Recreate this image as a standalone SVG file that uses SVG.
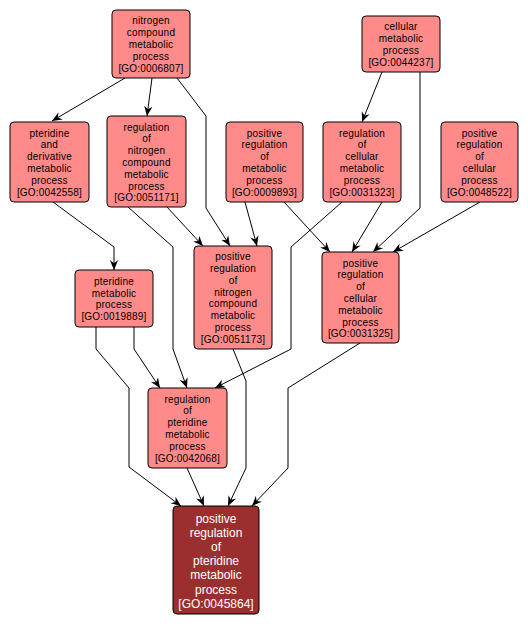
<svg xmlns="http://www.w3.org/2000/svg" width="528" height="627" viewBox="0 0 528 627">
<style>
.n rect{fill:#ff8a8a;stroke:#000;stroke-width:1}
.n text{font-family:"Liberation Sans",Arial,sans-serif;font-size:10px;letter-spacing:0.2px;fill:#000;text-anchor:middle}
.d rect{fill:#9b2f2f;stroke:#000;stroke-width:1}
.d text{font-family:"Liberation Sans",Arial,sans-serif;font-size:12px;fill:#fff;text-anchor:middle}
.e path{fill:none;stroke:#000;stroke-width:1;marker-end:url(#a)}
</style>
<defs>
<marker id="a" markerUnits="userSpaceOnUse" markerWidth="10" markerHeight="10" viewBox="0 0 10 10" refX="10" refY="5" orient="auto">
<path d="M0,0.8 L10,5 L0,9.2 L3.2,5 z" fill="#000"/>
</marker>
</defs>
<rect width="528" height="627" fill="#fff"/>
<g id="edges" class="e">
<path d="M125,78 L52,121"/>
<path d="M152,78 L147,116"/>
<path d="M177,78 L206,116 L206,208 L230,246"/>
<path d="M382,72 L362,122"/>
<path d="M420,72 L420,208 L373,252"/>
<path d="M53,202 L114,247 L114,270"/>
<path d="M167,207 L203,246"/>
<path d="M128,207 L173,247 L173,349 L187,388"/>
<path d="M245,202 L257,246"/>
<path d="M284,202 L330,252"/>
<path d="M382,202 L352,252"/>
<path d="M342,202 L291,247 L291,349 L215,388"/>
<path d="M480,202 L393,252"/>
<path d="M134,327 L134,349 L160,388"/>
<path d="M96,327 L96,349 L129,388 L129,467 L181,506"/>
<path d="M233,349 L246,381 L246,468 L228,506"/>
<path d="M360,343 L288,388 L288,468 L252,506"/>
<path d="M187,468 L204,506"/>
</g>
<g id="GO0006807" class="n"><rect x="112" y="10" width="78" height="68" rx="4"/>
<text x="151" y="24.4">nitrogen</text><text x="151" y="36.2">compound</text><text x="151" y="48">metabolic</text><text x="151" y="59.8">process</text><text x="151" y="71.6">[GO:0006807]</text></g>
<g id="GO0044237" class="n"><rect x="362" y="16" width="78" height="56" rx="4"/>
<text x="401" y="30.3">cellular</text><text x="401" y="42.1">metabolic</text><text x="401" y="53.9">process</text><text x="401" y="65.7">[GO:0044237]</text></g>
<g id="GO0042558" class="n"><rect x="10" y="122" width="79" height="80" rx="4"/>
<text x="49.5" y="136.5">pteridine</text><text x="49.5" y="148.3">and</text><text x="49.5" y="160.1">derivative</text><text x="49.5" y="171.9">metabolic</text><text x="49.5" y="183.7">process</text><text x="49.5" y="195.5">[GO:0042558]</text></g>
<g id="GO0051171" class="n"><rect x="107" y="116" width="79" height="91" rx="4"/>
<text x="146.5" y="130.6">regulation</text><text x="146.5" y="142.4">of</text><text x="146.5" y="154.2">nitrogen</text><text x="146.5" y="166">compound</text><text x="146.5" y="177.8">metabolic</text><text x="146.5" y="189.6">process</text><text x="146.5" y="201.4">[GO:0051171]</text></g>
<g id="GO0009893" class="n"><rect x="226" y="122" width="77" height="80" rx="4"/>
<text x="264.5" y="136.5">positive</text><text x="264.5" y="148.3">regulation</text><text x="264.5" y="160.1">of</text><text x="264.5" y="171.9">metabolic</text><text x="264.5" y="183.7">process</text><text x="264.5" y="195.5">[GO:0009893]</text></g>
<g id="GO0031323" class="n"><rect x="323" y="122" width="78" height="80" rx="4"/>
<text x="362" y="136.5">regulation</text><text x="362" y="148.3">of</text><text x="362" y="160.1">cellular</text><text x="362" y="171.9">metabolic</text><text x="362" y="183.7">process</text><text x="362" y="195.5">[GO:0031323]</text></g>
<g id="GO0048522" class="n"><rect x="441" y="122" width="77" height="80" rx="4"/>
<text x="479.5" y="136.5">positive</text><text x="479.5" y="148.3">regulation</text><text x="479.5" y="160.1">of</text><text x="479.5" y="171.9">cellular</text><text x="479.5" y="183.7">process</text><text x="479.5" y="195.5">[GO:0048522]</text></g>
<g id="GO0019889" class="n"><rect x="75" y="270" width="78" height="57" rx="4"/>
<text x="114" y="284.8">pteridine</text><text x="114" y="296.6">metabolic</text><text x="114" y="308.4">process</text><text x="114" y="320.2">[GO:0019889]</text></g>
<g id="GO0051173" class="n"><rect x="194" y="246" width="78" height="103" rx="4"/>
<text x="233" y="260.1">positive</text><text x="233" y="271.9">regulation</text><text x="233" y="283.7">of</text><text x="233" y="295.5">nitrogen</text><text x="233" y="307.3">compound</text><text x="233" y="319.1">metabolic</text><text x="233" y="330.9">process</text><text x="233" y="342.7">[GO:0051173]</text></g>
<g id="GO0031325" class="n"><rect x="322" y="252" width="77" height="91" rx="4"/>
<text x="360.5" y="266.6">positive</text><text x="360.5" y="278.4">regulation</text><text x="360.5" y="290.2">of</text><text x="360.5" y="302">cellular</text><text x="360.5" y="313.8">metabolic</text><text x="360.5" y="325.6">process</text><text x="360.5" y="337.4">[GO:0031325]</text></g>
<g id="GO0042068" class="n"><rect x="148" y="388" width="79" height="80" rx="4"/>
<text x="187.5" y="402.5">regulation</text><text x="187.5" y="414.3">of</text><text x="187.5" y="426.1">pteridine</text><text x="187.5" y="437.9">metabolic</text><text x="187.5" y="449.7">process</text><text x="187.5" y="461.5">[GO:0042068]</text></g>
<g id="GO0045864" class="d"><rect x="173" y="506" width="86" height="108" rx="4"/>
<text x="216" y="522.5">positive</text><text x="216" y="536.7">regulation</text><text x="216" y="550.9">of</text><text x="216" y="565.1">pteridine</text><text x="216" y="579.3">metabolic</text><text x="216" y="593.5">process</text><text x="216" y="607.7">[GO:0045864]</text></g>
</svg>
